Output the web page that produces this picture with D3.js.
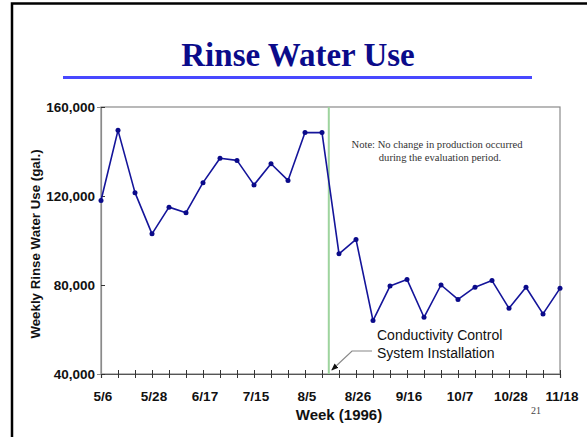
<!DOCTYPE html>
<html>
<head>
<meta charset="utf-8">
<script src="https://cdn.jsdelivr.net/npm/d3@7"></script>
<style>
  html, body { margin: 0; padding: 0; background: #fff; }
  svg { display: block; }
</style>
</head>
<body>
<script>
// Weekly rinse water use, 1996 (gallons), one value per week
const weekIndex = d3.range(28);
const usage = [118000, 149500, 121500, 103000, 115000, 112500, 126000, 137000,
               136000, 125000, 134500, 127000, 148500, 148500, 94000, 100500,
               64000, 79500, 82500, 65500, 80000, 73500, 79000, 82000,
               69500, 79000, 67000, 78500];
// Week labels shown every third week
const labelWeeks = [0, 3, 6, 9, 12, 15, 18, 21, 24, 27];
const labelText = ["5/6", "5/28", "6/17", "7/15", "8/5", "8/26", "9/16", "10/7", "10/28", "11/18"];
const yTicks = [40000, 80000, 120000, 160000];
// Conductivity control installed between the 14th and 15th weeks
const installAt = 13.4;

const W = 587, H = 437;
const svg = d3.select("body").append("svg").attr("width", W).attr("height", H);

// slide frame
svg.append("path")
  .attr("d", `M12,${H + 5} L12,3.5 L${W + 5},3.5`)
  .attr("fill", "none").attr("stroke", "#000").attr("stroke-width", 2.5);

// title and rule
svg.append("text")
  .attr("x", 298).attr("y", 66)
  .attr("text-anchor", "middle")
  .attr("font-family", "'Liberation Serif', 'Times New Roman', serif")
  .attr("font-weight", "bold").attr("font-size", 33)
  .attr("fill", "#0b0b8a")
  .text("Rinse Water Use");
svg.append("line")
  .attr("x1", 63).attr("x2", 532).attr("y1", 77.5).attr("y2", 77.5)
  .attr("stroke", "#4848ff").attr("stroke-width", 3);

const plotLeft = 101, plotRight = 560, plotTop = 107, plotBottom = 374;
const x = d3.scaleLinear().domain([0, 27]).range([plotLeft, plotRight]);
const y = d3.scaleLinear().domain([40000, 160000]).range([plotBottom, plotTop]);

// plot frame
svg.append("rect")
  .attr("x", plotLeft).attr("y", plotTop)
  .attr("width", plotRight - plotLeft).attr("height", plotBottom - plotTop)
  .attr("fill", "none").attr("stroke", "#8a8a8a").attr("stroke-width", 1.2);

// installation marker
svg.append("line")
  .attr("x1", x(installAt)).attr("x2", x(installAt))
  .attr("y1", plotTop).attr("y2", plotBottom)
  .attr("stroke", "#9ed49e").attr("stroke-width", 2);

// x axis
const xAxis = svg.append("g")
  .attr("transform", `translate(0,${plotBottom})`)
  .call(d3.axisBottom(x).tickValues(weekIndex).tickSize(4).tickFormat(() => ""));
xAxis.select(".domain").attr("stroke", "#555").attr("stroke-width", 1.2);
xAxis.selectAll(".tick line").attr("y1", -4).attr("stroke", "#333");

const xLabels = svg.append("g")
  .attr("font-family", "'Liberation Sans', Arial, sans-serif")
  .attr("font-weight", "bold").attr("font-size", 13.5).attr("fill", "#111");
xLabels.selectAll("text").data(labelWeeks).join("text")
  .attr("x", d => x(d) + 2).attr("y", 401)
  .attr("text-anchor", "middle")
  .text((d, i) => labelText[i]);

// y axis
const yAxis = svg.append("g")
  .attr("transform", `translate(${plotLeft},0)`)
  .call(d3.axisLeft(y).tickValues(yTicks).tickSize(4).tickPadding(2).tickFormat(d3.format(",")));
yAxis.select(".domain").attr("stroke", "#8a8a8a").attr("stroke-width", 1.2);
yAxis.selectAll(".tick line").attr("x2", 4).attr("stroke", "#333");
yAxis.selectAll(".tick text")
  .attr("font-family", "'Liberation Sans', Arial, sans-serif")
  .attr("font-weight", "bold").attr("font-size", 13.5).attr("fill", "#111")
  .attr("dy", "0.36em");

// axis titles
svg.append("text")
  .attr("x", 339).attr("y", 420)
  .attr("text-anchor", "middle")
  .attr("font-family", "'Liberation Sans', Arial, sans-serif")
  .attr("font-weight", "bold").attr("font-size", 15).attr("fill", "#111")
  .text("Week (1996)");
svg.append("text")
  .attr("transform", "translate(40,244) rotate(-90)")
  .attr("text-anchor", "middle")
  .attr("font-family", "'Liberation Sans', Arial, sans-serif")
  .attr("font-weight", "bold").attr("font-size", 13.3).attr("fill", "#111")
  .text("Weekly Rinse Water Use (gal.)");

// series
const line = d3.line().x((d, i) => x(weekIndex[i])).y(d => y(d));
svg.append("path")
  .datum(usage)
  .attr("d", line)
  .attr("fill", "none").attr("stroke", "#14149a").attr("stroke-width", 1.6)
  .attr("stroke-linejoin", "round");
svg.append("g").selectAll("circle").data(usage).join("circle")
  .attr("cx", (d, i) => x(weekIndex[i])).attr("cy", d => y(d))
  .attr("r", 2.5).attr("fill", "#0a0a8a");

// note
const note = svg.append("text")
  .attr("text-anchor", "middle")
  .attr("font-family", "'Liberation Serif', 'Times New Roman', serif")
  .attr("font-size", 10.6).attr("fill", "#333");
note.append("tspan").attr("x", 437).attr("y", 148).text("Note:  No change in production occurred");
note.append("tspan").attr("x", 440).attr("y", 161).text("during the evaluation period.");

// installation callout
const callout = svg.append("text")
  .attr("font-family", "'Liberation Sans', Arial, sans-serif")
  .attr("font-size", 14).attr("fill", "#111");
callout.append("tspan").attr("x", 377).attr("y", 340).text("Conductivity Control");
callout.append("tspan").attr("x", 377).attr("y", 358).text("System Installation");

svg.append("defs").append("marker")
  .attr("id", "arrowhead").attr("viewBox", "0 0 10 10")
  .attr("refX", 9).attr("refY", 5)
  .attr("markerWidth", 6).attr("markerHeight", 6)
  .attr("orient", "auto")
  .append("path").attr("d", "M0,1 L10,5 L0,9 Z").attr("fill", "#111");
svg.append("path")
  .attr("d", `M372,351 L352,351 L${x(installAt) + 3},370`)
  .attr("fill", "none").attr("stroke", "#888").attr("stroke-width", 1.2)
  .attr("marker-end", "url(#arrowhead)");

// slide number
svg.append("text")
  .attr("x", 536).attr("y", 414)
  .attr("text-anchor", "middle")
  .attr("font-family", "'Liberation Serif', 'Times New Roman', serif")
  .attr("font-size", 10).attr("fill", "#444")
  .text("21");
</script>
</body>
</html>
